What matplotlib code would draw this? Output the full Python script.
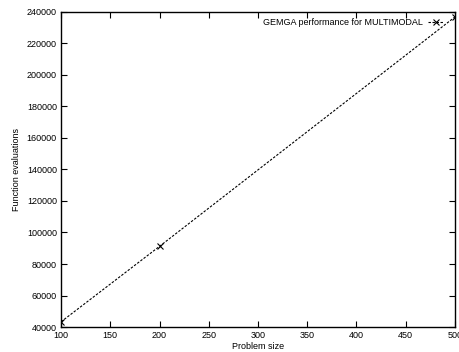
import matplotlib
matplotlib.use("Agg")
import matplotlib.pyplot as plt

problem_size = [100, 200, 500]
evaluations = [43300, 91200, 236800]
xticks = [100, 150, 200, 250, 300, 350, 400, 450, 500]
yticks = [40000, 60000, 80000, 100000, 120000, 140000, 160000, 180000, 200000, 220000, 240000]

plt.rcParams['font.family'] = ['Liberation Sans', 'DejaVu Sans']
fig = plt.figure(figsize=(4.59, 3.52), dpi=100)
ax = fig.add_axes([0.133, 0.071, 0.858, 0.895])
ax.plot(problem_size, evaluations, linestyle=(0, (2.2, 1.4)), color='black', lw=0.8,
        marker='x', markersize=4, markeredgewidth=0.8,
        label='GEMGA performance for MULTIMODAL')
ax.set_xlim(100, 500)
ax.set_ylim(40000, 240000)
ax.set_xticks(xticks)
ax.set_yticks(yticks)
ax.tick_params(direction='in', top=True, right=True, labelsize=6.5, length=4, width=0.8, pad=3)
for s in ax.spines.values():
    s.set_linewidth(1.0)
ax.set_xlabel('Problem size', fontsize=6.5, labelpad=1)
ax.set_ylabel('Function evaluations', fontsize=6.5, labelpad=4)
ax.legend(loc='upper right', frameon=False, markerfirst=False, fontsize=6.5,
          handlelength=1.8, handletextpad=0.5, borderaxespad=0.3,
          bbox_to_anchor=(0.988, 1.0))
fig.savefig('out.png', dpi=100)
